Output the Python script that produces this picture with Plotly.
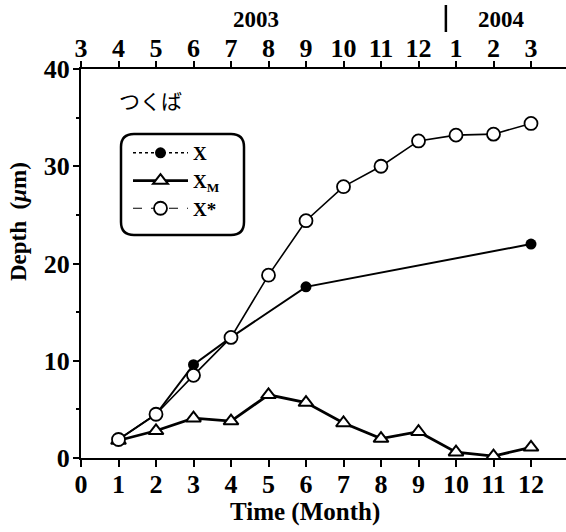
import plotly.graph_objects as go

# ---- data ----
months_x = [1, 2, 3, 4, 6, 12]
x_vals = [1.9, 4.5, 9.6, 12.4, 17.6, 22.0]

months_all = [1, 2, 3, 4, 5, 6, 7, 8, 9, 10, 11, 12]
xm_vals = [1.8, 2.8, 4.1, 3.8, 6.5, 5.7, 3.6, 2.0, 2.7, 0.6, 0.2, 1.1]
xstar_vals = [1.9, 4.5, 8.5, 12.4, 18.8, 24.4, 27.9, 30.0, 32.6, 33.2, 33.3, 34.4]

bottom_ticks = list(range(0, 13))
top_tick_labels = ["3", "4", "5", "6", "7", "8", "9", "10", "11", "12", "1", "2", "3"]
y_ticks = [0, 10, 20, 30, 40]

W, H = 566, 532
ML, MR, MT, MB = 81, 0, 69, 74
PW, PH = W - ML - MR, H - MT - MB
PX_PER_UNIT = 37.5
XMAX = PW / PX_PER_UNIT

FONT = "Liberation Serif, Times New Roman, serif"


def px2paper(px, py):
    return (px - ML) / PW, (H - MB - py) / PH


def fnt(size):
    return dict(family=FONT, size=size, color="black", weight=700)


fig = go.Figure()

fig.add_trace(go.Scatter(x=months_x, y=x_vals, mode="lines+markers", showlegend=False,
                         line=dict(color="black", width=2),
                         marker=dict(symbol="circle", size=11, color="black")))
fig.add_trace(go.Scatter(x=months_all, y=xm_vals, mode="lines+markers", showlegend=False,
                         line=dict(color="black", width=2.8),
                         marker=dict(symbol="triangle-up", size=13, color="white",
                                     line=dict(color="black", width=2))))
fig.add_trace(go.Scatter(x=months_all, y=xstar_vals, mode="lines+markers", showlegend=False,
                         line=dict(color="black", width=1.6),
                         marker=dict(symbol="circle", size=13, color="white",
                                     line=dict(color="black", width=1.8))))

fig.add_trace(go.Scatter(x=[None], y=[None], mode="lines+markers", name="X",
                         line=dict(color="black", width=1.5, dash="dot"),
                         marker=dict(symbol="circle", size=11, color="black")))
fig.add_trace(go.Scatter(x=[None], y=[None], mode="lines+markers", name="X<sub>M</sub>",
                         line=dict(color="black", width=2.8),
                         marker=dict(symbol="triangle-up", size=13, color="white",
                                     line=dict(color="black", width=2))))
fig.add_trace(go.Scatter(x=[None], y=[None], mode="lines+markers", name="X*",
                         line=dict(color="black", width=1.2, dash="dash"),
                         marker=dict(symbol="circle", size=13, color="white",
                                     line=dict(color="black", width=1.8))))

fig.add_trace(go.Scatter(x=[0, 12], y=[None, None], xaxis="x2", showlegend=False,
                         mode="markers", marker=dict(opacity=0), hoverinfo="skip"))

tickfont = fnt(26)

fig.update_layout(
    width=W, height=H,
    margin=dict(l=ML, r=MR, t=MT, b=MB),
    paper_bgcolor="white", plot_bgcolor="white",
    font=fnt(20),
    showlegend=True,
    legend=dict(x=px2paper(128, 0)[0], y=px2paper(0, 134)[1], xanchor="left", yanchor="top",
                bgcolor="rgba(0,0,0,0)", borderwidth=0,
                font=fnt(19), tracegroupgap=0, itemwidth=55),
    xaxis=dict(range=[0, XMAX], tickmode="array", tickvals=bottom_ticks,
               ticktext=[str(v) for v in bottom_ticks],
               ticks="outside", ticklen=7, tickwidth=2, tickcolor="black",
               showline=True, linecolor="black", linewidth=2, showgrid=False, zeroline=False,
               tickfont=tickfont, anchor="y", ticklabelstandoff=-5),
    xaxis2=dict(range=[0, XMAX], overlaying="x", side="top", anchor="y",
                tickmode="array", tickvals=bottom_ticks, ticktext=top_tick_labels,
                ticks="outside", ticklen=6, tickwidth=2, tickcolor="black",
                showline=True, linecolor="black", linewidth=2, showgrid=False, zeroline=False,
                tickfont=tickfont, ticklabelstandoff=-6),
    yaxis=dict(range=[0, 40], tickmode="array", tickvals=y_ticks,
               ticks="outside", ticklen=6, tickwidth=2, tickcolor="black",
               minor=dict(dtick=5, ticks="outside", ticklen=3, tickwidth=1.5, tickcolor="black"),
               showline=True, linecolor="black", linewidth=2, showgrid=False, zeroline=False,
               tickfont=tickfont, ticklabelstandoff=-2),
)

annotations = []
ax, ay = px2paper(305, 512)
annotations.append(dict(x=ax, y=ay, xref="paper", yref="paper", text="Time (Month)",
                        xanchor="center", yanchor="middle", showarrow=False, font=fnt(25)))
ax, ay = px2paper(18, 221)
annotations.append(dict(x=ax, y=ay, xref="paper", yref="paper", text="Depth  (<i>μ</i>m)",
                        xanchor="center", yanchor="middle", textangle=-90, showarrow=False,
                        font=fnt(23)))
annotations.append(dict(x=4.67, y=px2paper(0, 20)[1], xref="x", yref="paper", text="2003",
                        xanchor="center", yanchor="middle", showarrow=False, font=fnt(23)))
annotations.append(dict(x=11.2, y=px2paper(0, 20)[1], xref="x", yref="paper", text="2004",
                        xanchor="center", yanchor="middle", showarrow=False, font=fnt(23)))
ax, ay = px2paper(150, 100)
annotations.append(dict(x=ax, y=ay, xref="paper", yref="paper", text="つくば",
                        xanchor="center", yanchor="middle", showarrow=False,
                        font=dict(family="Noto Sans CJK JP", size=21, color="black", weight=400)))
fig.update_layout(annotations=annotations)

fig.add_shape(type="line", xref="x", yref="paper", x0=9.73, x1=9.73,
              y0=px2paper(0, 5)[1], y1=px2paper(0, 32)[1], line=dict(color="black", width=2.5))

x0, y0 = px2paper(121, 235)
x1, y1 = px2paper(244, 134)
rx, ry = 13 / PW, 13 / PH
path = (f"M {x0+rx},{y0} L {x1-rx},{y0} Q {x1},{y0} {x1},{y0+ry} "
        f"L {x1},{y1-ry} Q {x1},{y1} {x1-rx},{y1} L {x0+rx},{y1} Q {x0},{y1} {x0},{y1-ry} "
        f"L {x0},{y0+ry} Q {x0},{y0} {x0+rx},{y0} Z")
fig.add_shape(type="path", xref="paper", yref="paper", path=path,
              line=dict(color="black", width=2.5), layer="above")

fig.write_html("out.html")
